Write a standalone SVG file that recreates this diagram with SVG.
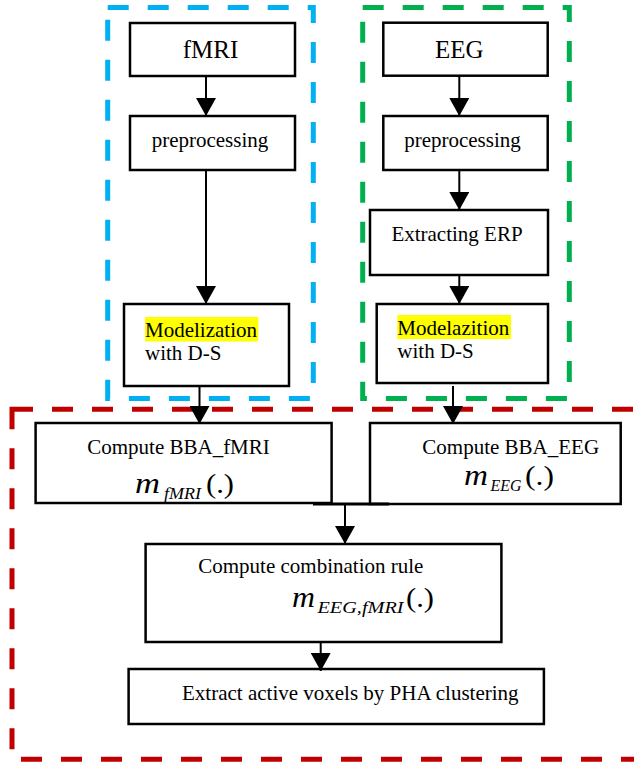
<svg xmlns="http://www.w3.org/2000/svg" width="634" height="764" viewBox="0 0 634 764">
<style>
.frame{fill:none;stroke-width:5;stroke-dasharray:21 19}
.box{fill:#fff;stroke:#000;stroke-width:2.5}
.t{font-family:'Liberation Serif','Times New Roman',serif;font-size:21px;fill:#000}
.big{font-size:25px}
.c{text-anchor:middle}
.m{font-family:'Liberation Serif','Times New Roman',serif;font-style:italic;font-size:29px;fill:#000}
.s{font-size:17px}
.p{font-family:'Liberation Serif','Times New Roman',serif;font-style:normal;font-size:27px;fill:#000}
.hl{fill:#ffff00}
.conn line{stroke:#000;stroke-width:2}
</style>
<defs>
<marker id="ah" viewBox="0 0 18 20" refX="18" refY="10" markerWidth="18" markerHeight="20" markerUnits="userSpaceOnUse" orient="auto">
<path d="M0,0 L18,10 L0,20 z" fill="#000"/>
</marker>
</defs>

<g id="frames">
<rect x="107.7" y="7.5" width="205.6" height="391" class="frame" stroke="#00B0F0"/>
<rect x="362.7" y="7.5" width="206.6" height="391" class="frame" stroke="#00B050"/>
<rect x="12" y="409.3" width="640" height="350" class="frame" stroke="#C00000"/>
</g>

<g id="fmri">
<rect x="130" y="23" width="165" height="53" class="box"/>
<text x="210.5" y="58" class="t big c">fMRI</text>
</g>
<g id="prep_fmri">
<rect x="130" y="116" width="165" height="54" class="box"/>
<text x="210" y="147" class="t c">preprocessing</text>
</g>
<g id="model_fmri">
<rect x="124" y="304" width="165" height="82" class="box"/>
<rect x="145" y="317" width="113.3" height="24.5" class="hl"/>
<text x="145" y="337" class="t">Modelization</text>
<text x="145" y="360" class="t">with D-S</text>
</g>

<g id="eeg">
<rect x="383.3" y="22.7" width="164.4" height="53" class="box"/>
<text x="459.3" y="58" class="t big c">EEG</text>
</g>
<g id="prep_eeg">
<rect x="383.3" y="116" width="164.4" height="54" class="box"/>
<text x="462.5" y="147" class="t c">preprocessing</text>
</g>
<g id="erp">
<rect x="370" y="210" width="178" height="65" class="box"/>
<text x="457" y="241" class="t c">Extracting ERP</text>
</g>
<g id="model_eeg">
<rect x="376.7" y="304" width="171.3" height="79" class="box"/>
<rect x="397.3" y="315" width="113.7" height="24" class="hl"/>
<text x="397.3" y="335" class="t">Modelazition</text>
<text x="397.3" y="358" class="t">with D-S</text>
</g>

<g id="bba_fmri">
<rect x="35.6" y="423" width="296" height="80" class="box"/>
<text x="178.5" y="454" class="t c">Compute BBA_fMRI</text>
<text x="135" y="493" class="m" textLength="25" lengthAdjust="spacingAndGlyphs">m</text>
<text x="164" y="499" class="m s" textLength="37" lengthAdjust="spacingAndGlyphs">fMRI</text>
<text x="206" y="493" class="p" textLength="28" lengthAdjust="spacingAndGlyphs">(.)</text>
</g>
<g id="bba_eeg">
<rect x="370" y="423" width="250.7" height="81" class="box"/>
<text x="510.7" y="454" class="t c">Compute BBA_EEG</text>
<text x="464" y="485" class="m" textLength="24" lengthAdjust="spacingAndGlyphs">m</text>
<text x="490.5" y="491" class="m s" textLength="31" lengthAdjust="spacingAndGlyphs">EEG</text>
<text x="525" y="485" class="p" textLength="29" lengthAdjust="spacingAndGlyphs">(.)</text>
</g>
<g id="combination">
<rect x="145.6" y="544" width="355.8" height="98" class="box"/>
<text x="310.8" y="573" class="t c">Compute combination rule</text>
<text x="292" y="607" class="m" textLength="23" lengthAdjust="spacingAndGlyphs">m</text>
<text x="317.5" y="613" class="m s" textLength="86" lengthAdjust="spacingAndGlyphs">EEG,fMRI</text>
<text x="406" y="607" class="p" textLength="28" lengthAdjust="spacingAndGlyphs">(.)</text>
</g>
<g id="extract">
<rect x="128.6" y="669" width="415.3" height="55" class="box"/>
<text x="350.3" y="700" class="t c">Extract active voxels by PHA clustering</text>
</g>

<g id="connectors" class="conn">
<line x1="206" y1="76" x2="206" y2="116" marker-end="url(#ah)"/>
<line x1="206" y1="170" x2="206" y2="304" marker-end="url(#ah)"/>
<line x1="199.5" y1="386" x2="199.5" y2="424" marker-end="url(#ah)"/>
<line x1="459.3" y1="76" x2="459.3" y2="116" marker-end="url(#ah)"/>
<line x1="459.3" y1="170" x2="459.3" y2="210" marker-end="url(#ah)"/>
<line x1="459.3" y1="275" x2="459.3" y2="304" marker-end="url(#ah)"/>
<line x1="453" y1="386" x2="453" y2="424" marker-end="url(#ah)"/>
<line x1="313" y1="504" x2="389" y2="504" style="stroke-width:3"/>
<line x1="345" y1="504" x2="345" y2="544" marker-end="url(#ah)"/>
<line x1="320.7" y1="642" x2="320.7" y2="671" marker-end="url(#ah)"/>
</g>
</svg>
